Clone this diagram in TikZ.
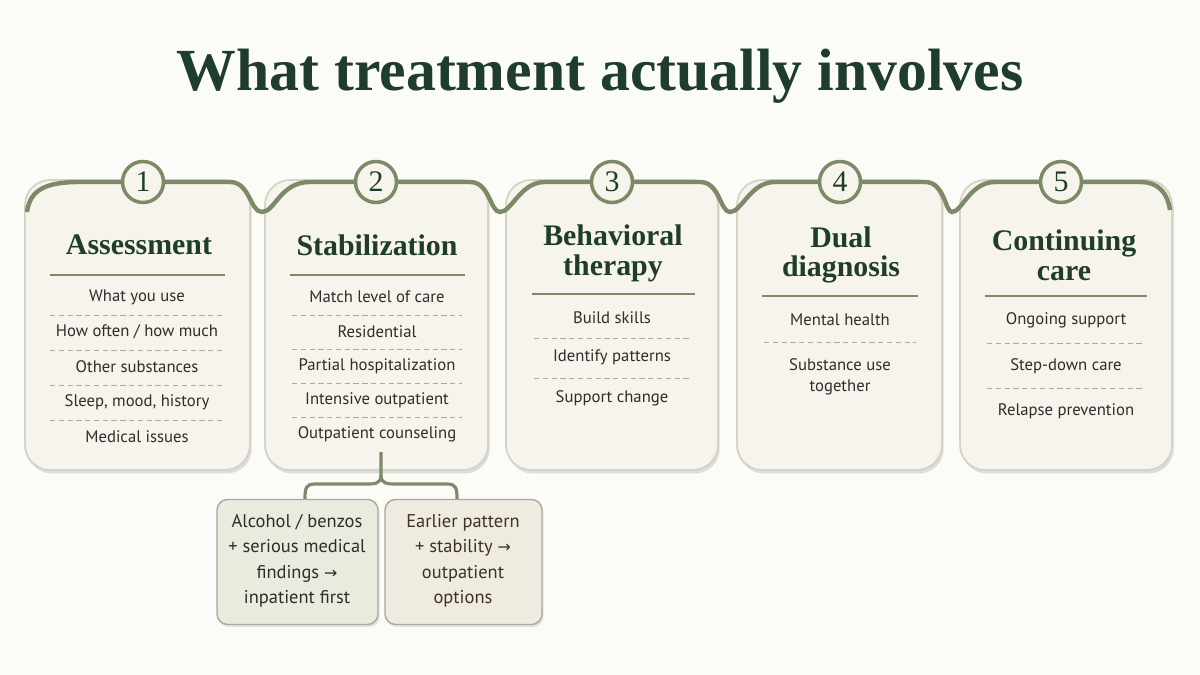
\documentclass[tikz,border=0pt]{standalone}
\usepackage{fontspec}
\setmainfont{Liberation Serif}
\newfontfamily\bodyf{PT Sans}
\newfontfamily\symf{DejaVu Sans}
\usetikzlibrary{shadows}
\definecolor{dgreen}{HTML}{1F3D2B}
\definecolor{olive}{HTML}{7D8A68}
\definecolor{card}{HTML}{F6F4EC}
\definecolor{cborder}{HTML}{D6D2C4}
\definecolor{bg}{HTML}{FBFBF8}
\definecolor{txt}{HTML}{2E2E2A}
\definecolor{gbox}{RGB}{232,235,222}
\definecolor{bbox}{RGB}{240,235,225}
\definecolor{btxt}{RGB}{60,50,40}
\newcommand{\arr}{{\symf\small →}}
\begin{document}
\begin{tikzpicture}[x=0.02cm,y=-0.02cm,
  cardst/.style={draw=cborder,line width=1pt,fill=card,rounded corners=0.5cm,drop shadow={shadow xshift=1pt,shadow yshift=-2pt,opacity=0.25}},
  head/.style={font=\bfseries\fontsize{17}{17}\selectfont,text=dgreen,align=center},
  item/.style={font=\bodyf\fontsize{9.5}{12}\selectfont,text=txt,align=center},
  rule/.style={olive,line width=0.9pt},
  dsep/.style={cborder!80!black,densely dashed,line width=0.4pt},
  num/.style={circle,draw=olive,line width=2pt,fill=card,minimum size=0.82cm,inner sep=0pt,font=\fontsize{17}{17}\selectfont,text=dgreen},
  wave/.style={olive,line width=2.5pt}]
\fill[bg] (0,0) rectangle (1200,675);
\node[font=\bfseries\fontsize{34}{34}\selectfont,text=dgreen] (title) at (600,76) {What treatment actually involves};
% cards
\node[cardst,minimum width=4.5cm,minimum height=5.8cm] (c1) at (137.5,325) {};
\node[cardst,minimum width=4.46cm,minimum height=5.8cm] (c2) at (376.5,325) {};
\node[cardst,minimum width=4.24cm,minimum height=5.8cm] (c3) at (612,325) {};
\node[cardst,minimum width=4.1cm,minimum height=5.8cm] (c4) at (839.5,325) {};
\node[cardst,minimum width=4.24cm,minimum height=5.8cm] (c5) at (1066,325) {};
% wave
\draw[wave] (27,212) .. controls (30,190) and (45,182) .. (80,182) -- (230,182) .. controls (250,182) and (250,212) .. (262,212) .. controls (275,212) and (280,182) .. (310,182) -- (470,182) .. controls (490,182) and (490,212) .. (500,212) .. controls (512,212) and (520,182) .. (545,182) -- (700,182) .. controls (720,182) and (720,212) .. (730,212) .. controls (742,212) and (750,182) .. (775,182) -- (925,182) .. controls (945,182) and (945,212) .. (952,212) .. controls (962,212) and (970,182) .. (995,182) -- (1140,182) .. controls (1160,182) and (1168,195) .. (1170,210);
\foreach \n/\x in {1/143,2/376,3/612,4/840,5/1061}{\node[num] (n\n) at (\x,182) {\n};}
% card 1
\node[head] (h1) at (139,245) {Assessment};
\draw[rule] (50,275) -- (225,275);
\node[item] (a1) at (137,297) {What you use};
\node[item] (a2) at (137,332) {How often / how much};
\node[item] (a3) at (137,367) {Other substances};
\node[item] (a4) at (137,402) {Sleep, mood, history};
\node[item] (a5) at (137,437) {Medical issues};
\foreach \y in {315,350,385,420}{\draw[dsep] (50,\y) -- (222,\y);}
% card 2
\node[head] (h2) at (377,245) {Stabilization};
\draw[rule] (290,275) -- (465,275);
\node[item] (b1) at (377,297) {Match level of care};
\node[item] (b2) at (377,332) {Residential};
\node[item] (b3) at (377,366) {Partial hospitalization};
\node[item] (b4) at (377,400) {Intensive outpatient};
\node[item] (b5) at (377,434) {Outpatient counseling};
\foreach \y in {315,349,383,417}{\draw[dsep] (292,\y) -- (462,\y);}
% card 3
\node[head] (h3) at (613,253) {Behavioral\\therapy};
\draw[rule] (532,294) -- (695,294);
\node[item] (d1) at (612,318) {Build skills};
\node[item] (d2) at (612,357) {Identify patterns};
\node[item] (d3) at (612,398) {Support change};
\foreach \y in {338,378}{\draw[dsep] (534,\y) -- (692,\y);}
% card 4
\node[head] (h4) at (841,255) {Dual\\diagnosis};
\draw[rule] (762,296) -- (918,296);
\node[item] (e1) at (840,320) {Mental health};
\node[item] (e2) at (840,377) {Substance use\\together};
\draw[dsep] (764,342) -- (916,342);
% card 5
\node[head] (h5) at (1064,255) {Continuing\\care};
\draw[rule] (985,296) -- (1147,296);
\node[item] (f1) at (1066,320) {Ongoing support};
\node[item] (f2) at (1066,366) {Step-down care};
\node[item] (f3) at (1066,411) {Relapse prevention};
\foreach \y in {343,388}{\draw[dsep] (987,\y) -- (1145,\y);}
% bottom boxes
\node[draw=cborder!80!black,line width=0.8pt,fill=gbox,rounded corners=6pt,minimum width=3.22cm,minimum height=2.5cm,drop shadow={shadow xshift=1pt,shadow yshift=-1.5pt,opacity=0.2}] (g1) at (297.5,562) {};
\node[draw=cborder!80!black,line width=0.8pt,fill=bbox,rounded corners=6pt,minimum width=3.14cm,minimum height=2.5cm,drop shadow={shadow xshift=1pt,shadow yshift=-1.5pt,opacity=0.2}] (g2) at (463.5,562) {};
\node[item,font=\bodyf\fontsize{10.5}{14.5}\selectfont] (t1) at (297,561) {Alcohol / benzos\\+ serious medical\\findings \arr\\inpatient first};
\node[item,font=\bodyf\fontsize{10.5}{14.5}\selectfont,text=btxt] (t2) at (463,561) {Earlier pattern\\+ stability \arr\\outpatient\\options};
% bracket
\coordinate (bk) at (381,452);
\draw[olive,line width=1.8pt] (bk) -- (381,475) .. controls (381,484) and (375,484) .. (365,484) -- (315,484) .. controls (306,484) and (305,488) .. (g1.north -| 305,0);
\draw[olive,line width=1.8pt] (381,475) .. controls (381,484) and (387,484) .. (397,484) -- (447,484) .. controls (456,484) and (457,488) .. (g2.north -| 457,0);
\end{tikzpicture}
\end{document}
